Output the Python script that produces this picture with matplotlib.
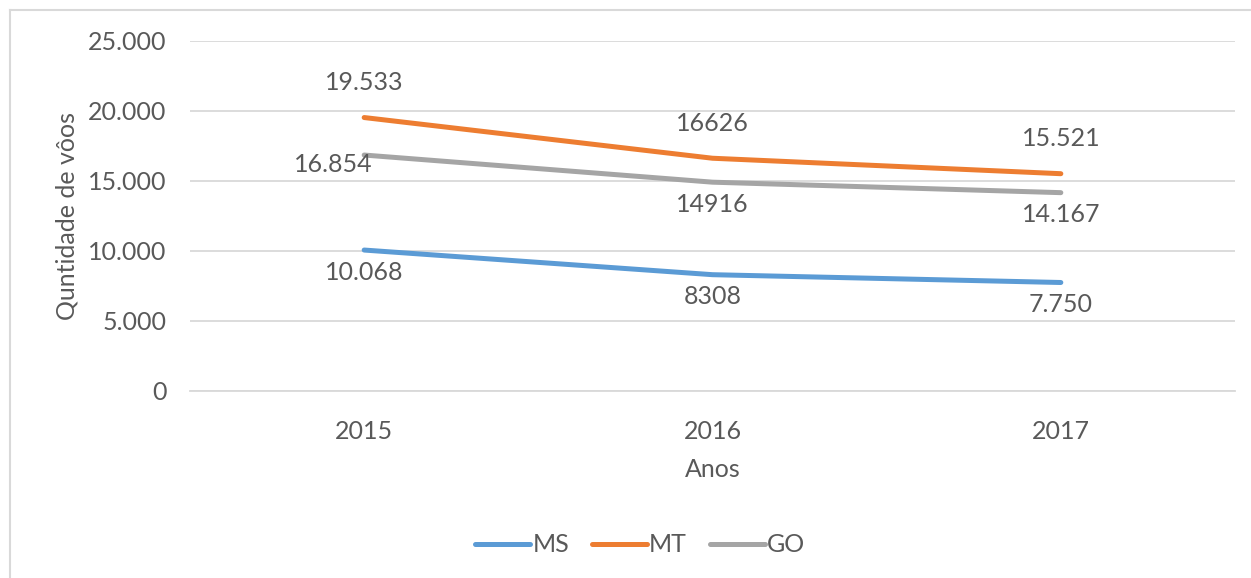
import matplotlib.pyplot as plt
from matplotlib.lines import Line2D
from matplotlib.ticker import FuncFormatter

plt.rcParams['font.family'] = ['Lato', 'DejaVu Sans']

# dados
anos = ['2015', '2016', '2017']
ms = [10068, 8308, 7750]
mt = [19533, 16626, 15521]
go = [16854, 14916, 14167]
ms_labels = ['10.068', '8308', '7.750']
mt_labels = ['19.533', '16626', '15.521']
go_labels = ['16.854', '14916', '14.167']

cor_texto = '#595959'
cores = {'MS': '#5B9BD5', 'MT': '#ED7D31', 'GO': '#A5A5A5'}

fig = plt.figure(figsize=(12.51, 5.78), dpi=100)
ax = fig.add_axes([190 / 1251, 1 - 391 / 578, 1045 / 1251, 350 / 578])

x = range(len(anos))
ax.plot(x, ms, color=cores['MS'], lw=3.6, solid_capstyle='round', label='MS')
ax.plot(x, mt, color=cores['MT'], lw=3.6, solid_capstyle='round', label='MT')
ax.plot(x, go, color=cores['GO'], lw=3.6, solid_capstyle='round', label='GO')

# rótulos de dados
fs = 18
for i in x:
    ax.annotate(ms_labels[i], (i, ms[i]), xytext=(0, -16), textcoords='offset points',
                ha='center', va='center', fontsize=fs, color=cor_texto)
    ax.annotate(mt_labels[i], (i, mt[i]), xytext=(0, 25), textcoords='offset points',
                ha='center', va='center', fontsize=fs, color=cor_texto)
    off = (-22, -7) if i == 0 else (0, -16)
    ax.annotate(go_labels[i], (i, go[i]), xytext=off, textcoords='offset points',
                ha='center', va='center', fontsize=fs, color=cor_texto)

ax.set_xlim(-0.5, 2.5)
ax.set_ylim(0, 25000)
ax.set_yticks(range(0, 25001, 5000))
ax.yaxis.set_major_formatter(FuncFormatter(lambda v, p: f'{int(v):,}'.replace(',', '.')))
ax.set_xticks(list(x))
ax.set_xticklabels(anos)
ax.grid(axis='y', color='#D9D9D9', lw=1.3)
ax.set_axisbelow(True)
for s in ['top', 'right', 'left']:
    ax.spines[s].set_visible(False)
ax.spines['bottom'].set_color('#D9D9D9')
ax.spines['bottom'].set_linewidth(1.3)
ax.tick_params(length=0, labelsize=fs, colors=cor_texto)
ax.tick_params(axis='y', pad=17)
ax.tick_params(axis='x', pad=21)

ax.set_xlabel('Anos', fontsize=fs, color=cor_texto, labelpad=11)
ax.set_ylabel('Quntidade de vôos', fontsize=fs, color=cor_texto, labelpad=7)

fig.legend(loc='center', bbox_to_anchor=(640 / 1251, 1 - 545 / 578), ncol=3,
           frameon=False, fontsize=fs, labelcolor=cor_texto, handlelength=2.2,
           handletextpad=0.1, columnspacing=0.9)

# moldura do gráfico
fig.add_artist(Line2D([10 / 1251, 10 / 1251], [0, 1 - 10 / 578], color='#D9D9D9', lw=1.5))
fig.add_artist(Line2D([10 / 1251, 1], [1 - 10 / 578, 1 - 10 / 578], color='#D9D9D9', lw=1.5))

fig.savefig('out.png', dpi=100)
